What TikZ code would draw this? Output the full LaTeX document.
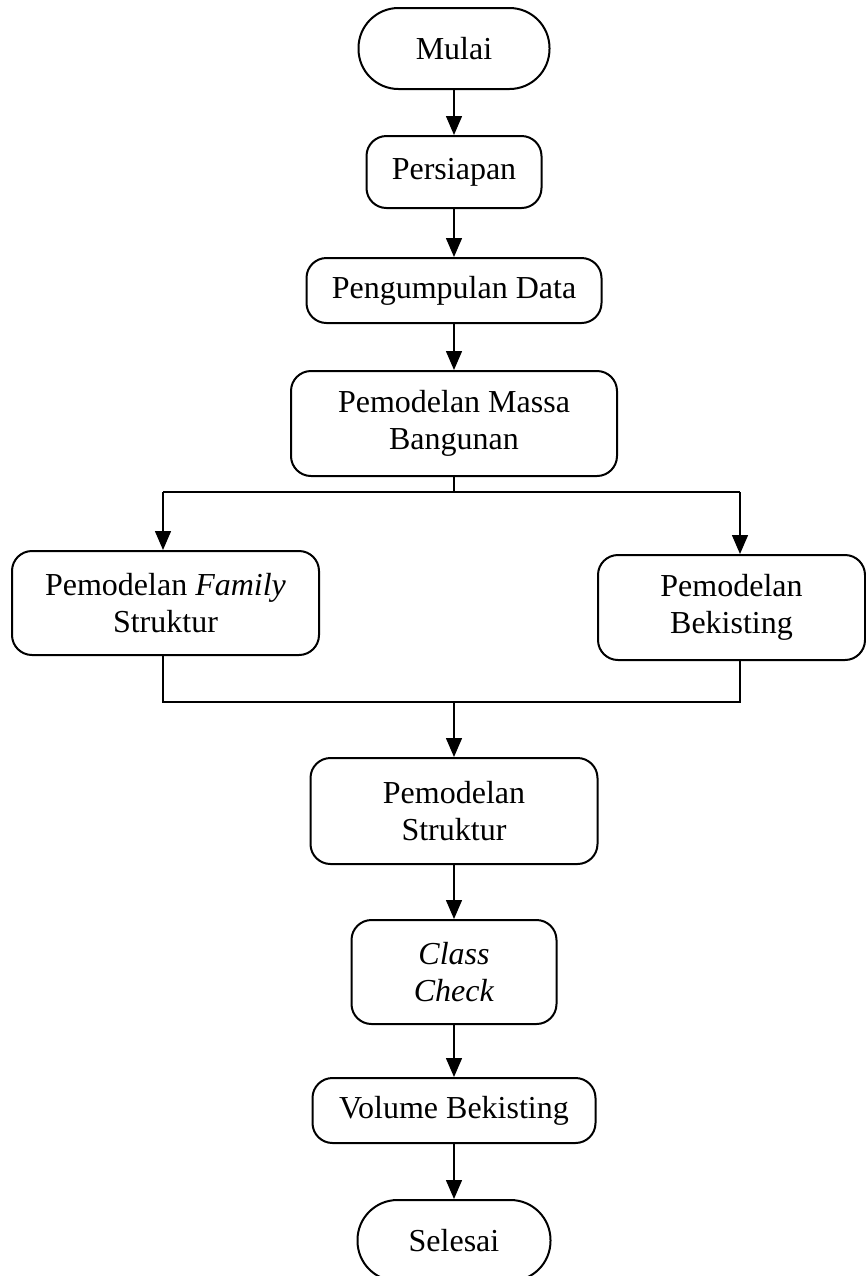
\documentclass[tikz,border=0pt]{standalone}
\usepackage{fontspec}
\setmainfont{Liberation Serif}
\usetikzlibrary{arrows.meta,positioning}

\begin{document}
\begin{tikzpicture}[x=0.5pt,y=-0.5pt,
  box/.style={draw,line width=1pt,rounded corners=10pt,align=center,inner sep=0pt,font=\fontsize{16}{18.5}\selectfont},
  terminal/.style={box,rounded corners=20pt},
  flow/.style={line width=0.7pt,-{Triangle[length=9.5pt,width=8pt]}},
  link/.style={line width=0.7pt}]
\useasboundingbox (0,0) rectangle (866,1276);

\node[terminal,minimum width=95.5pt,minimum height=40.5pt] (mulai) at (454,48.5) {Mulai};
\node[box,minimum width=87.5pt,minimum height=36pt] (persiapan) at (454,172) {Persiapan};
\node[box,minimum width=147.5pt,minimum height=32.5pt] (data) at (454,290.5) {Pengumpulan Data};
\node[box,minimum width=163pt,minimum height=52.5pt] (massa) at (454,423.5) {Pemodelan Massa\\Bangunan};
\node[box,minimum width=153.5pt,minimum height=52pt] (family) at (165.5,603) {Pemodelan \textit{Family}\\Struktur};
\node[box,minimum width=133.5pt,minimum height=52.5pt] (bekisting) at (731.5,607.5) {Pemodelan\\Bekisting};
\node[box,minimum width=143.5pt,minimum height=53pt] (struktur) at (454,811) {Pemodelan\\Struktur};
\node[box,minimum width=102.5pt,minimum height=52pt] (check) at (454,972) {\textit{Class}\\\textit{Check}};
\node[box,minimum width=141.5pt,minimum height=32.5pt] (volume) at (454,1110.5) {Volume Bekisting};
\node[terminal,minimum width=96.5pt,minimum height=40.5pt] (selesai) at (454,1240.5) {Selesai};

\draw[flow] (mulai) -- (persiapan);
\draw[flow] (persiapan) -- (data);
\draw[flow] (data) -- (massa);

\coordinate (split) at (454,492);
\coordinate (splitl) at (163,492);
\coordinate (splitr) at (740,492);
\draw[link] (massa) -- (split);
\draw[link] (splitl) -- (splitr);
\draw[flow] (splitl) -- (splitl |- family.north);
\draw[flow] (splitr) -- (splitr |- bekisting.north);

\coordinate (join) at (454,702);
\coordinate (joinl) at (163,702);
\coordinate (joinr) at (740,702);
\draw[link] (family.south -| joinl) -- (joinl) -- (joinr) -- (bekisting.south -| joinr);
\draw[flow] (join) -- (struktur);

\draw[flow] (struktur) -- (check);
\draw[flow] (check) -- (volume);
\draw[flow] (volume) -- (selesai);
\end{tikzpicture}
\end{document}
